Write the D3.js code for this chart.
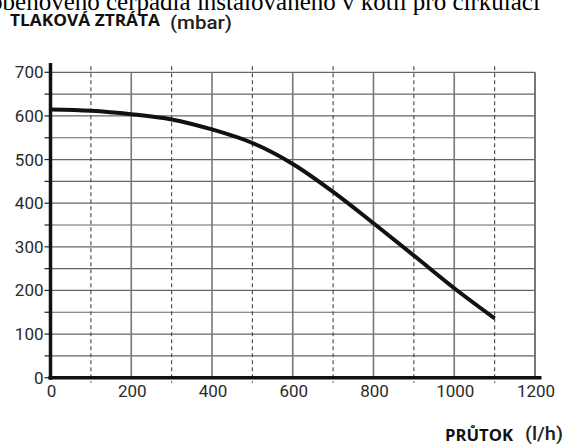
<!DOCTYPE html>
<html><head><meta charset="utf-8">
<script src="https://cdn.jsdelivr.net/npm/d3@7"></script>
<style>body{margin:0;background:#fff}svg{display:block}</style>
</head><body>
<svg id="c" width="566" height="445"></svg>
<script>
const flow = [0,100,200,300,400,500,600,700,800,900,1000,1100];
const pressureLoss = [615,612,604,592,569,538,490,426,354,280,205,136];
const xTicks = [0,200,400,600,800,1000,1200];
const yTicks = [0,100,200,300,400,500,600,700];
const titleY = "TLAKOVÁ ZTRÁTA";
const unitY = "(mbar)";
const titleX = "PRŮTOK";
const unitX = "(l/h)";
const headerText = "výška oběhového čerpadla instalovaného v kotli pro cirkulaci";

const svg = d3.select("#c");
const x = d3.scaleLinear().domain([0,1200]).range([50.5,535]);
const y = d3.scaleLinear().domain([0,700]).range([377.7,72.3]);
const tickFont = "Roboto, 'Liberation Sans', sans-serif";
const labelFont = "'Open Sans', 'DejaVu Sans', sans-serif";

// cut-off header text (line above the chart in the source document)
const hdr = svg.append("text").attr("x",0).attr("y",9.5).attr("font-family","'Liberation Serif', serif")
  .attr("font-size",25).attr("fill","#000").text(headerText);
const idx = headerText.indexOf("čerpadla");
const off = hdr.node().getSubStringLength(0, idx);
hdr.attr("x", 106 - off);

// titles
svg.append("text").attr("x",10).attr("y",26).attr("font-family",labelFont).attr("font-weight","bold")
  .attr("font-size",15.5).attr("fill","#111").attr("textLength",150).attr("lengthAdjust","spacingAndGlyphs").text(titleY);
svg.append("text").attr("x",170).attr("y",29).attr("font-family",tickFont).attr("font-weight",500).attr("font-size",19)
  .attr("fill","#222").attr("textLength",62).attr("lengthAdjust","spacingAndGlyphs").text(unitY);

svg.append("text").attr("x",445).attr("y",441).attr("font-family",labelFont).attr("font-weight","bold")
  .attr("font-size",15.5).attr("fill","#111").attr("textLength",68).attr("lengthAdjust","spacingAndGlyphs").text(titleX);
svg.append("text").attr("x",525).attr("y",440).attr("font-family",tickFont).attr("font-weight",500).attr("font-size",19)
  .attr("fill","#222").attr("textLength",38).attr("lengthAdjust","spacingAndGlyphs").text(unitX);

// horizontal grid every 50
const hLines = d3.range(50,701,50);
svg.append("g").selectAll("line").data(hLines).join("line")
  .attr("x1",x(0)).attr("x2",x(1200)).attr("y1",d=>y(d)).attr("y2",d=>y(d))
  .attr("stroke","#666").attr("stroke-width",1.2);
// y ticks left of axis every 50
svg.append("g").selectAll("line").data(d3.range(0,701,50)).join("line")
  .attr("x1",x(0)-6).attr("x2",x(0)).attr("y1",d=>y(d)).attr("y2",d=>y(d))
  .attr("stroke","#222").attr("stroke-width",1.2);
// vertical solid grid at 200s
svg.append("g").selectAll("line").data([200,400,600,800,1000,1200]).join("line")
  .attr("x1",d=>x(d)).attr("x2",d=>x(d)).attr("y1",y(700)).attr("y2",y(0))
  .attr("stroke","#777").attr("stroke-width",d=>d===1200?2:1.6);
// vertical dashed at odd 100s
svg.append("g").selectAll("line").data([100,300,500,700,900,1100]).join("line")
  .attr("x1",d=>x(d)).attr("x2",d=>x(d)).attr("y1",y(700)-6).attr("y2",y(0)+5)
  .attr("stroke","#444").attr("stroke-width",1.1).attr("stroke-dasharray","4,3");

// axes
svg.append("line").attr("x1",x(0)).attr("x2",x(0)).attr("y1",63).attr("y2",y(0)+2)
  .attr("stroke","#111").attr("stroke-width",3.5);
svg.append("line").attr("x1",x(0)-2).attr("x2",541.5).attr("y1",y(0)).attr("y2",y(0))
  .attr("stroke","#111").attr("stroke-width",3.5);

// tick labels
svg.append("g").selectAll("text").data(yTicks).join("text")
  .attr("x",43.5).attr("y",d=>y(d)+6).attr("text-anchor","end")
  .attr("font-family",tickFont).attr("font-size",17).attr("fill","#2a2a2a").text(d=>d);
svg.append("g").selectAll("text").data(xTicks).join("text")
  .attr("x",d=>x(d)+1).attr("y",397).attr("text-anchor","middle")
  .attr("font-family",tickFont).attr("font-size",17).attr("fill","#2a2a2a").text(d=>d);

// curve
const line = d3.line().x((d,i)=>x(flow[i])).y(d=>y(d)).curve(d3.curveCatmullRom);
svg.append("path").datum(pressureLoss).attr("d",line).attr("fill","none")
  .attr("stroke","#111").attr("stroke-width",4).attr("stroke-linecap","butt");
</script>
</body></html>
